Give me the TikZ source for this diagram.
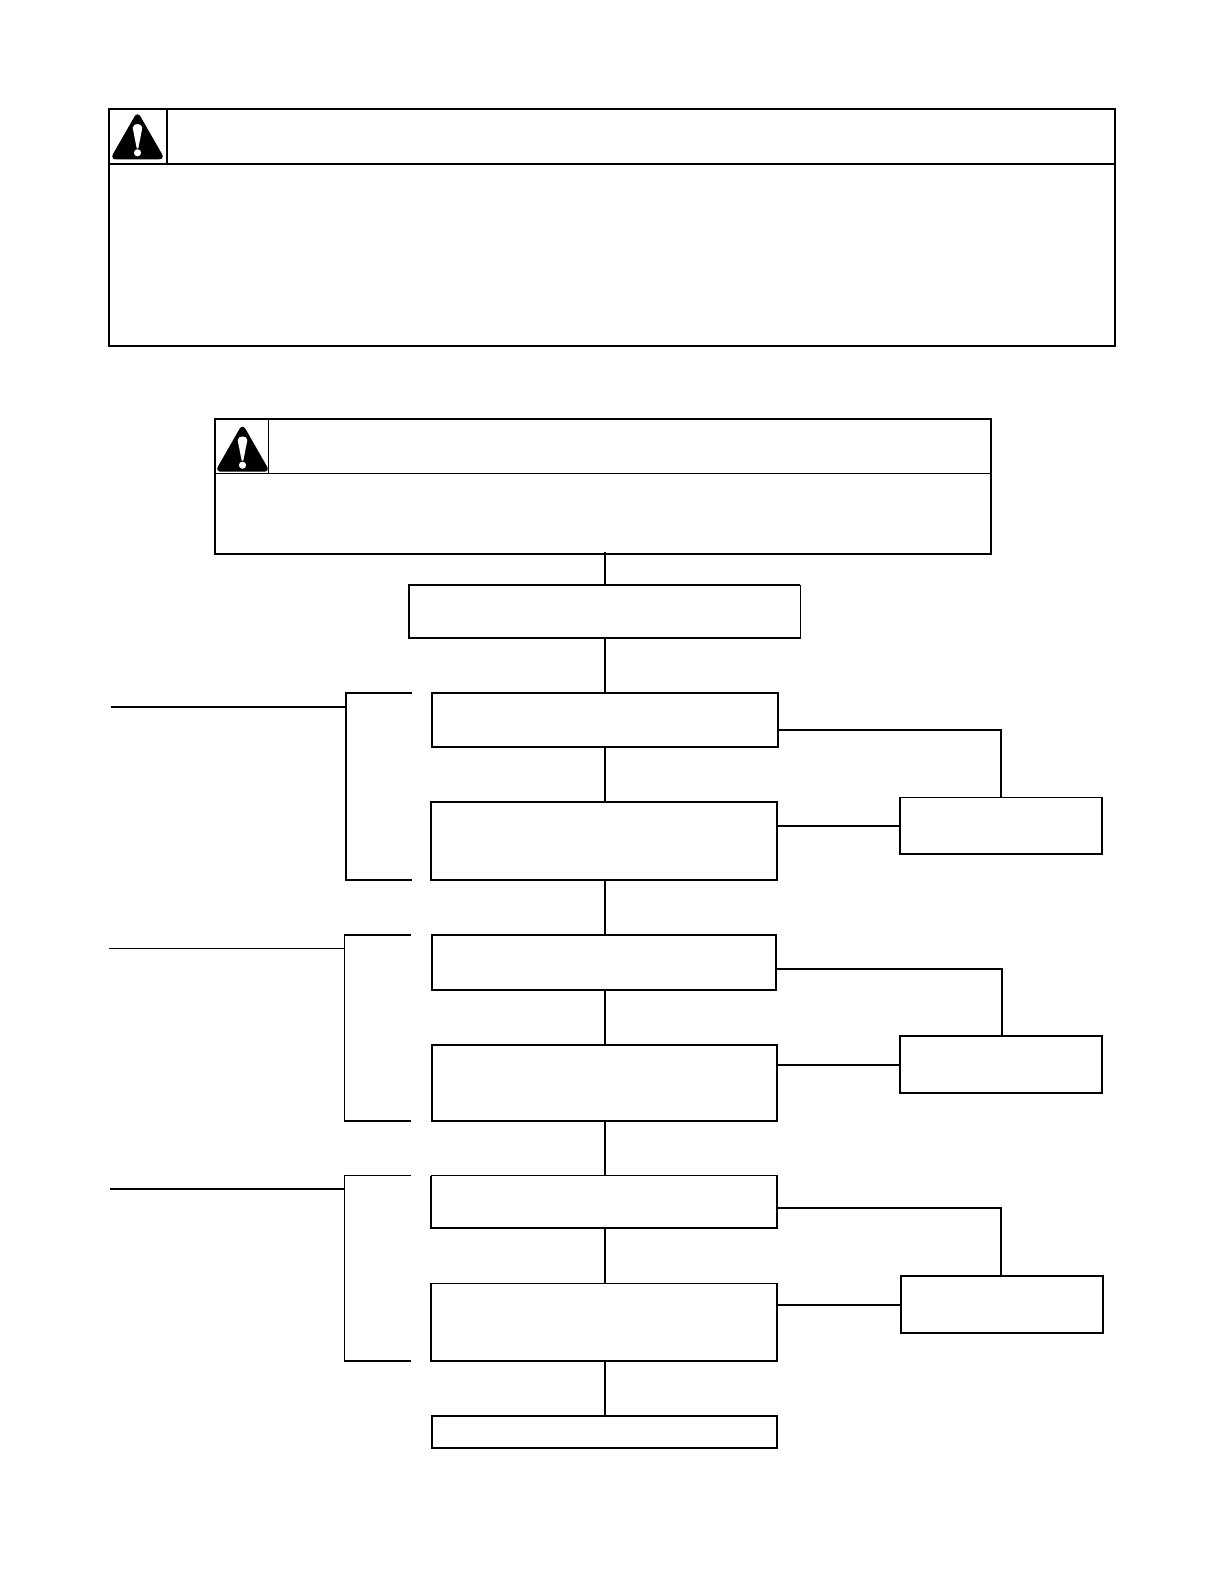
\documentclass[tikz,border=0pt]{standalone}
\usepackage{tikz}
\usetikzlibrary{positioning}

\tikzset{
    warnsign/.pic={
        % triangle with a white exclamation mark, origin at bottom centre
        \fill[black, rounded corners=6pt] (0,-48) -- (27.5,0) -- (-27.5,0) -- cycle;
        \fill[white] (-4.8,-31.5) .. controls (-4.8,-36.5) and (4.8,-36.5) .. (4.8,-31.5) -- (0.8,-11) -- (-0.8,-11) -- cycle;
        \fill[white] (0,-6.5) circle (3.6pt);
    }
}

\begin{document}
\begin{tikzpicture}[
    x=1pt, y=-1pt,
    node distance=55pt,
    cell/.style={rectangle, draw, line width=2pt, inner sep=0pt, outer sep=0pt},
    thincell/.style={cell, line width=1pt},
    stepbox/.style={cell, minimum width=346pt},
    sidebox/.style={cell, minimum width=202.3pt, minimum height=56.7pt},
    wire/.style={line width=2pt},
    hair/.style={line width=1pt},
]
    \useasboundingbox (0,0) rectangle (1224,1584);

    % Upper warning
    \node[cell, anchor=north west, minimum width=58.6pt, minimum height=54.8pt] (iconA) at (108.7,109) {};
    \node[cell, anchor=north west, minimum width=947.7pt, minimum height=54.8pt] (headA) at (iconA.north east) {};
    \node[cell, anchor=north west, minimum width=1006.3pt, minimum height=182.2pt] (bodyA) at (iconA.south west) {};
    \pic at (137.5,159.3) {warnsign};

    % Lower warning
    \node[thincell, anchor=north west, minimum width=53.7pt, minimum height=54.3pt] (iconB) at (215,419) {};
    \node[thincell, anchor=north west, minimum width=722.3pt, minimum height=54.3pt] (headB) at (iconB.north east) {};
    \node[thincell, anchor=north west, minimum width=776pt, minimum height=80.7pt] (bodyB) at (iconB.south west) {};
    \draw[wire] (iconB.south west) |- (headB.north east) -- (headB.south east) |- (bodyB.south west) -- cycle;
    \pic at (242.5,471.7) {warnsign};

    % Main column
    \coordinate (spine) at (605,0);
    \node[thincell, minimum width=391.3pt, minimum height=53pt] (setup) at (604.6,611.5) {};
    \node[stepbox, minimum height=53.7pt, below=55pt of setup, xshift=0.4pt] (stepA) {};
    \node[stepbox, minimum height=78.3pt, below=of stepA, xshift=-1pt] (checkA) {};
    \node[stepbox, minimum width=344pt, minimum height=55pt, below=of checkA] (stepB) {};
    \node[stepbox, minimum width=345pt, minimum height=75.7pt, below=of stepB, xshift=0.5pt] (checkB) {};
    \node[stepbox, thincell, minimum height=52.5pt, below=54.8pt of checkB, xshift=-0.5pt] (stepC) {};
    \node[stepbox, thincell, minimum height=77.4pt, below=55.3pt of stepC] (checkC) {};
    \node[stepbox, minimum width=345pt, minimum height=32.3pt, below=of checkC, xshift=0.5pt] (last) {};
    \draw[wire] (setup.north east) -- (setup.north west) -- (setup.south west) -- (setup.south east);
    \draw[wire] (stepC.north west) -- (stepC.south west) -- (stepC.south east) -- (stepC.north east);
    \draw[wire] (checkC.north west) -- (checkC.south west) -- (checkC.south east) -- (checkC.north east);

    % Side boxes
    \node[sidebox, thincell] (sideA) at (1001.2,825.7) {};
    \node[sidebox] (sideB) at (1001.2,1064.2) {};
    \node[sidebox] (sideC) at (1002.2,1304.4) {};
    \draw[wire] (sideA.north west) -- (sideA.south west) -- (sideA.south east) -- (sideA.north east);

    % Column connectors
    \draw[wire] (bodyB.south -| spine) ++(0,-2) -- (setup.north -| spine);
    \draw[wire] (setup.south -| spine) -- (stepA.north -| spine);
    \draw[wire] (stepA.south -| spine) -- (checkA.north -| spine);
    \draw[wire] (checkA.south -| spine) -- (stepB.north -| spine);
    \draw[wire] (stepB.south -| spine) -- (checkB.north -| spine);
    \draw[wire] (checkB.south -| spine) -- (stepC.north -| spine);
    \draw[wire] (stepC.south -| spine) -- (checkC.north -| spine);
    \draw[wire] (checkC.south -| spine) -- (last.north -| spine);

    % Side connectors
    \coordinate (turnA) at (1001.2,730);
    \coordinate (turnB) at (1002,968.7);
    \coordinate (turnC) at (1001,1208);
    \coordinate (feedA) at (900,826);
    \coordinate (feedB) at (900,1065);
    \coordinate (feedC) at (900,1305.2);
    \draw[wire] (stepA.east |- turnA) -- (turnA) -- (turnA |- sideA.north);
    \draw[wire] (stepB.east |- turnB) -- (turnB) -- (turnB |- sideB.north);
    \draw[wire] (stepC.east |- turnC) -- (turnC) -- (turnC |- sideC.north);
    \draw[wire] (checkA.east |- feedA) -- (sideA.west |- feedA);
    \draw[wire] (checkB.east |- feedB) -- (sideB.west |- feedB);
    \draw[wire] (checkC.east |- feedC) -- (sideC.west |- feedC);

    % Brackets
    \coordinate (leadA) at (111,706.7);
    \coordinate (joinA) at (346,706.7);
    \coordinate (topA) at (412,692.7);
    \coordinate (botA) at (412,880);
    \draw[wire] (leadA) -- (joinA);
    \draw[wire] (topA) -| (joinA) |- (botA);

    \coordinate (leadB) at (109,948);
    \coordinate (joinB) at (344.7,948);
    \coordinate (topB) at (411,935);
    \coordinate (botB) at (411,1120.7);
    \draw[hair] (leadB) -- (joinB);
    \draw[hair] (joinB |- topB) -- (joinB |- botB);
    \draw[wire] (topB) -- ([xshift=-0.5pt]joinB |- topB);
    \draw[wire] (botB) -- ([xshift=-0.5pt]joinB |- botB);

    \coordinate (leadC) at (110,1189);
    \coordinate (joinC) at (344.7,1189);
    \coordinate (topC) at (411,1175.3);
    \coordinate (botC) at (411,1360.7);
    \draw[wire] (leadC) -- (joinC);
    \draw[hair] (topC) -| (joinC) -- (joinC |- botC);
    \draw[wire] (botC) -- ([xshift=-0.5pt]joinC |- botC);
\end{tikzpicture}
\end{document}
